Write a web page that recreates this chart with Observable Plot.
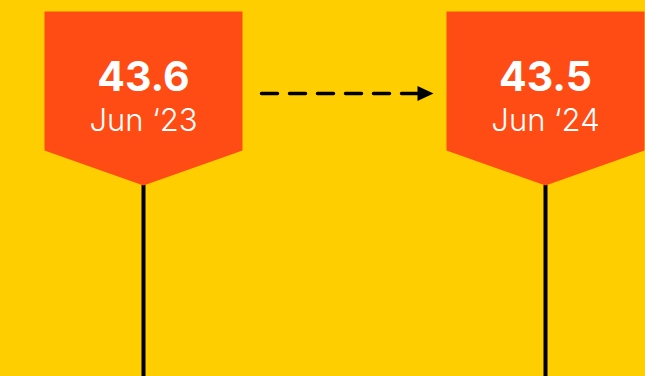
<!DOCTYPE html>
<html>
<head>
<meta charset="utf-8">
<script src="https://cdn.jsdelivr.net/npm/d3@7"></script>
<script src="https://cdn.jsdelivr.net/npm/@observablehq/plot@0.6"></script>
<style>
  html, body { margin: 0; padding: 0; background: #FFCE00; }
  #chart svg { display: block; background: #FFCE00; }
</style>
</head>
<body>
<div id="chart"></div>
<script>
// Data
const dates = ["Jun \u201823", "Jun \u201824"];
const values = [43.6, 43.5];

const data = dates.map((d, i) => ({date: d, value: values[i]}));

// Layout / style constants
const W = 645, H = 376;
const ORANGE = "#FF4B14";
const FLAG_W = 198, FLAG_H = 174, FLAG_POINT = 35;
const TIP_Y = 185, VALUE_Y = 77, DATE_Y = 121, ARROW_Y = 93;

// Pentagon flag pointing down; the tip sits at the origin
const flagSymbol = {
  draw(ctx) {
    const hw = FLAG_W / 2;
    ctx.moveTo(0, 0);
    ctx.lineTo(-hw, -FLAG_POINT);
    ctx.lineTo(-hw, -FLAG_H);
    ctx.lineTo(hw, -FLAG_H);
    ctx.lineTo(hw, -FLAG_POINT);
    ctx.closePath();
  }
};
// Filled arrowhead pointing right; the tip sits at the origin
const headSymbol = {
  draw(ctx) {
    ctx.moveTo(0, 0);
    ctx.lineTo(-16, -7.5);
    ctx.lineTo(-16, 7.5);
    ctx.closePath();
  }
};

const chart = Plot.plot({
  width: W,
  height: H,
  marginLeft: 143,
  marginRight: 100,
  marginTop: 0,
  marginBottom: 0,
  style: {background: "#FFCE00", fontFamily: "Inter, sans-serif"},
  x: {type: "point", domain: dates, padding: 0, axis: null},
  y: {type: "identity", axis: null},
  marks: [
    Plot.ruleX(data, {x: "date", y1: TIP_Y, y2: H, stroke: "black", strokeWidth: 4}),
    Plot.dot(data, {x: "date", y: TIP_Y, symbol: flagSymbol, fill: ORANGE, stroke: "none"}),
    Plot.text(data, {x: "date", y: VALUE_Y, text: d => d.value.toFixed(1), fill: "white",
      fontSize: 41, fontWeight: 700, lineAnchor: "middle"}),
    Plot.text(data, {x: "date", y: DATE_Y, text: "date", fill: "white",
      fontSize: 31, fontWeight: 300, lineAnchor: "middle"}),
    Plot.arrow([{from: dates[0], to: dates[1]}], {x1: "from", x2: "to", y1: ARROW_Y, y2: ARROW_Y,
      headLength: 0, insetStart: 118, insetEnd: 128, stroke: "black", strokeWidth: 3.5,
      strokeDasharray: "16,12"}),
    Plot.dot([{to: dates[1]}], {x: "to", y: ARROW_Y, dx: -112, symbol: headSymbol, fill: "black", stroke: "none"})
  ]
});
document.getElementById("chart").appendChild(chart);
</script>
</body>
</html>
